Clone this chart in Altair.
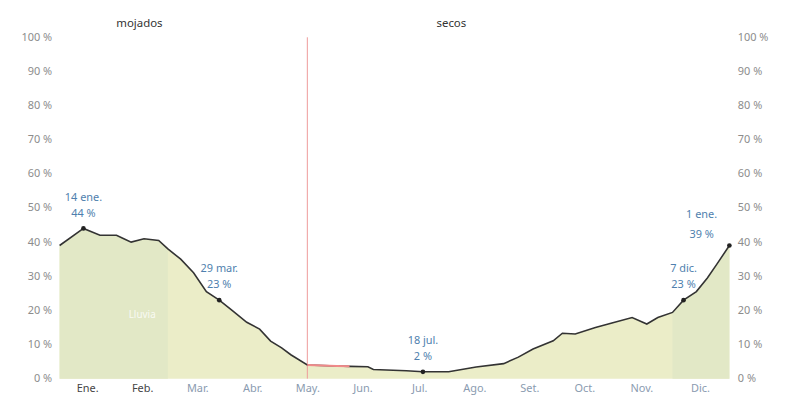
import altair as alt
import pandas as pd

# Curve: day of year (0 = 1 Jan) and probability in %
days = [0, 13, 22, 31, 35, 39, 46, 54, 59, 66, 73, 80, 87, 94, 102, 109, 115, 121, 126,
        135, 151, 158, 168, 171, 189, 198, 212, 227, 242, 250, 258, 269, 274, 281, 292,
        301, 312, 320, 326, 334, 340, 347, 353, 358, 365]
pcts = [39, 44, 42, 42, 41, 40, 41, 40.5, 38, 35, 31, 25.5, 23, 20, 16.5, 14.5, 11, 9, 7,
        4, 3.7, 3.6, 3.5, 2.7, 2.3, 2, 2, 3.4, 4.4, 6.3, 8.7, 11.1, 13.3, 13.1, 15,
        16.3, 17.9, 16, 17.9, 19.4, 23, 25.5, 29.5, 33.4, 39]

month_mid = [15, 45, 75, 105, 135, 165, 196, 226, 256, 286, 317, 349]
month_labels = ["Ene.", "Feb.", "Mar.", "Abr.", "May.", "Jun.", "Jul.", "Ago.", "Set.", "Oct.", "Nov.", "Dic."]
y_ticks = [0, 10, 20, 30, 40, 50, 60, 70, 80, 90, 100]

ann_days = [13, 87, 198, 340]
ann_pcts = [44, 23, 2, 23]
ann_text = ["14 ene.|44 %", "29 mar.|23 %", "18 jul.|2 %", "7 dic.|23 %"]
end_day = [365]
end_pct = [39]
end_text = ["1 ene.|39 %"]

season_bounds = [87, 340]
season_names = ["mojados", "secos"]
today_day = [135]
red_span = [135, 158]
winter_spans = [[0, 59], [334, 365]]

df = pd.DataFrame({"day": days, "pct": pcts})
ann = pd.DataFrame({"day": ann_days, "pct": ann_pcts, "label": ann_text})
endd = pd.DataFrame({"day": end_day, "pct": end_pct, "label": end_text})
seasons = pd.DataFrame({
    "day": [season_bounds[0] / 2, (season_bounds[0] + season_bounds[1]) / 2],
    "name": season_names,
})
today = pd.DataFrame({"day": today_day})

FONT = "Noto Sans"
label_expr = "[" + ",".join(f"'{m}'" for m in month_labels) + "][indexof([" + ",".join(str(v) for v in month_mid) + "], datum.value)]"

xsc = alt.Scale(domain=[0, 365], nice=False, zero=False)
ysc = alt.Scale(domain=[0, 100], nice=False)

x_axis = alt.Axis(values=month_mid, labelExpr=label_expr, ticks=False, domain=False, grid=False,
                  title=None, labelFontSize=11, labelFont=FONT, labelPadding=4, labelOverlap=False,
                  labelColor={"condition": {"test": "datum.value < 60", "value": "#444"}, "value": "#8a9bb0"})


def yaxis(orient):
    return alt.Axis(values=y_ticks, labelExpr="datum.value + ' %'", ticks=False, orient=orient,
                    domain=False, grid=False, title=None, labelFontSize=11, labelFont=FONT,
                    labelColor="#8c8c8c", labelPadding=8, labelOverlap=False)


base = alt.Chart(df)
X = alt.X("day:Q", scale=xsc, axis=x_axis)
Yn = alt.Y("pct:Q", scale=ysc, axis=None)

area_all = base.mark_area(color="#ebedc8", opacity=1).encode(x=X, y=Yn)
winter_layers = []
for lo, hi in winter_spans:
    winter_layers.append(
        base.transform_filter(f"datum.day >= {lo} && datum.day <= {hi}")
        .mark_area(color="#e2e8c6").encode(x="day:Q", y=Yn)
    )
line = base.mark_line(color="#333", strokeWidth=1.6).encode(x="day:Q", y=Yn)
red = base.transform_filter(f"datum.day >= {red_span[0]} && datum.day <= {red_span[1]}").mark_line(
    color="#f08a8a", strokeWidth=2).encode(x="day:Q", y=Yn)
rule = alt.Chart(today).mark_rule(color="#ee9a9a", strokeWidth=1).encode(x="day:Q")

pts = alt.Chart(pd.concat([ann, endd])).mark_point(filled=True, color="#222", size=22, opacity=1).encode(
    x="day:Q", y=Yn)
ann_txt = alt.Chart(ann).mark_text(color="#4f7fae", fontSize=11, font=FONT, lineBreak="|",
                                   baseline="alphabetic", dy=-28, lineHeight=16).encode(
    x="day:Q", y=Yn, text="label:N")
end_txt = alt.Chart(endd).mark_text(color="#4f7fae", fontSize=11, font=FONT, lineBreak="|",
                                    baseline="alphabetic", dy=-28, dx=-28, lineHeight=20).encode(
    x="day:Q", y=Yn, text="label:N")
lluvia = alt.Chart(pd.DataFrame({"day": [45], "pct": [18.5], "t": ["Lluvia"]})).mark_text(
    color="#ffffff", fontSize=10, font=FONT, opacity=0.8).encode(x="day:Q", y=Yn, text="t:N")
season_txt = alt.Chart(seasons).mark_text(color="#333", fontSize=11.5, font=FONT, baseline="middle").encode(
    x="day:Q", y=alt.value(-13), text="name:N")

inner = alt.layer(area_all, *winter_layers, lluvia, rule, line, red, pts, ann_txt, end_txt, season_txt)
left_axis = base.mark_line(opacity=0).encode(x="day:Q", y=alt.Y("pct:Q", scale=ysc, axis=yaxis("left")))
right_axis = base.mark_line(opacity=0).encode(x="day:Q", y=alt.Y("pct:Q", scale=ysc, axis=yaxis("right")))

chart = alt.layer(inner, left_axis, right_axis).resolve_scale(y="independent").properties(
    width=675, height=344,
    autosize=alt.AutoSizeParams(type="none"),
    padding={"left": 52, "top": 28, "right": 50, "bottom": 20},
    view=alt.ViewBackground(strokeWidth=0, strokeOpacity=0),
).configure_view(strokeWidth=0, strokeOpacity=0).configure(background="white")

chart.save("out.html", embed_options={"renderer": "svg", "actions": False})
